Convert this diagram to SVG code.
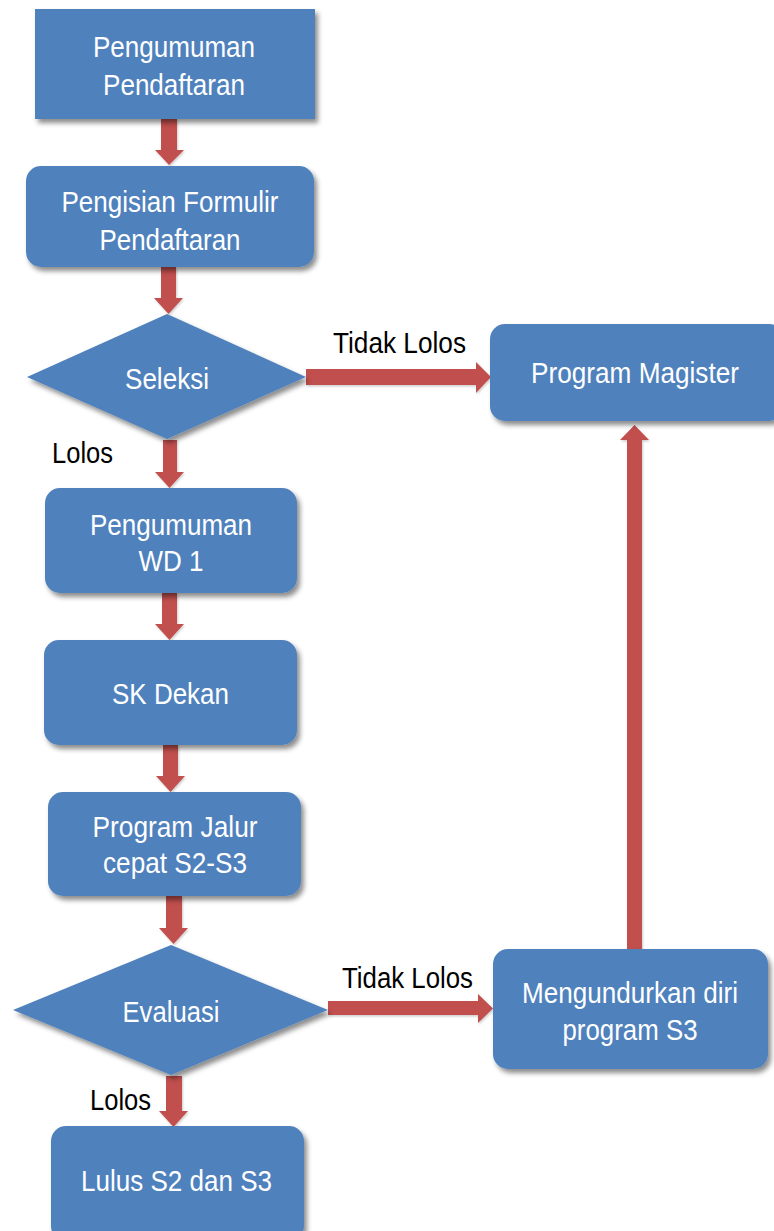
<svg xmlns="http://www.w3.org/2000/svg" width="774" height="1231" viewBox="0 0 774 1231">
<style>
.box{fill:#4F81BD;filter:url(#sh)}
.arr{fill:#C0504D;filter:url(#sh2)}
.t{font-family:"Liberation Sans",Arial,sans-serif;font-size:29px;fill:#FFFFFF;text-anchor:middle}
.l{font-family:"Liberation Sans",Arial,sans-serif;font-size:29px;fill:#000000}
</style>
<defs>
<filter id="sh" x="-20%" y="-20%" width="140%" height="150%">
<feDropShadow dx="3" dy="4" stdDeviation="2.5" flood-color="#000" flood-opacity="0.45"/>
</filter>
<filter id="sh2" x="-20%" y="-20%" width="140%" height="150%">
<feDropShadow dx="1" dy="1.5" stdDeviation="1" flood-color="#000" flood-opacity="0.2"/>
</filter>
</defs>
<rect width="774" height="1231" fill="#FFFFFF"/>
<g id="connectors">
<polygon class="arr" points="161,119 177,119 177,150 184,150 169,165 155,150 161,150"/>
<polygon class="arr" points="161,267 176,267 176,298 183,298 168.5,314 154,298 161,298"/>
<polygon class="arr" points="163,440 177,440 177,472 184,472 169.5,488 155,472 163,472"/>
<polygon class="arr" points="162,593 177,593 177,624 184,624 169.5,640 155,624 162,624"/>
<polygon class="arr" points="163,745 178,745 178,776 185,776 170.5,792 156,776 163,776"/>
<polygon class="arr" points="166,896 182,896 182,928 188,928 173.5,944 159,928 166,928"/>
<polygon class="arr" points="166,1076 182,1076 182,1111 188,1111 173.5,1127 159,1111 166,1111"/>
<polygon class="arr" points="306,369 476,369 476,362 491,377 476,393 476,385 306,385"/>
<polygon class="arr" points="328,1001 478,1001 478,994 493,1008.5 478,1023 478,1015 328,1015"/>
<polygon class="arr" points="627,949 627,440 620,440 634.5,425 649,440 642,440 642,949"/>
<text class="l" x="333" y="353" textLength="133" lengthAdjust="spacingAndGlyphs">Tidak Lolos</text>
<text class="l" x="52" y="463" textLength="61" lengthAdjust="spacingAndGlyphs">Lolos</text>
<text class="l" x="342" y="988" textLength="131" lengthAdjust="spacingAndGlyphs">Tidak Lolos</text>
<text class="l" x="90" y="1110" textLength="61" lengthAdjust="spacingAndGlyphs">Lolos</text>
</g>
<g id="n1">
<rect class="box" x="35" y="9" width="280" height="110"/>
<text class="t" x="174" y="57" textLength="162" lengthAdjust="spacingAndGlyphs">Pengumuman</text>
<text class="t" x="174" y="95" textLength="142" lengthAdjust="spacingAndGlyphs">Pendaftaran</text>
</g>
<g id="n2">
<rect class="box" x="26" y="166" width="288" height="101" rx="15"/>
<text class="t" x="170" y="212" textLength="217" lengthAdjust="spacingAndGlyphs">Pengisian Formulir</text>
<text class="t" x="170" y="250" textLength="141" lengthAdjust="spacingAndGlyphs">Pendaftaran</text>
</g>
<g id="n3">
<polygon class="box" points="167,314 306,377 167,439 27,377"/>
<text class="t" x="167" y="389" textLength="84" lengthAdjust="spacingAndGlyphs">Seleksi</text>
</g>
<g id="n4">
<rect class="box" x="490" y="324" width="294" height="97" rx="15"/>
<text class="t" x="635" y="383" textLength="208" lengthAdjust="spacingAndGlyphs">Program Magister</text>
</g>
<g id="n5">
<rect class="box" x="45" y="488" width="252" height="105" rx="15"/>
<text class="t" x="171" y="535" textLength="162" lengthAdjust="spacingAndGlyphs">Pengumuman</text>
<text class="t" x="171" y="571" textLength="65" lengthAdjust="spacingAndGlyphs">WD 1</text>
</g>
<g id="n6">
<rect class="box" x="44" y="640" width="253" height="105" rx="15"/>
<text class="t" x="170.5" y="704" textLength="117" lengthAdjust="spacingAndGlyphs">SK Dekan</text>
</g>
<g id="n7">
<rect class="box" x="48" y="792" width="253" height="104" rx="15"/>
<text class="t" x="175" y="837" textLength="165" lengthAdjust="spacingAndGlyphs">Program Jalur</text>
<text class="t" x="175" y="873" textLength="144" lengthAdjust="spacingAndGlyphs">cepat S2-S3</text>
</g>
<g id="n8">
<polygon class="box" points="171,945 328,1010 171,1075 13,1010"/>
<text class="t" x="171" y="1022" textLength="97" lengthAdjust="spacingAndGlyphs">Evaluasi</text>
</g>
<g id="n9">
<rect class="box" x="493" y="949" width="275" height="120" rx="15"/>
<text class="t" x="630" y="1003" textLength="216" lengthAdjust="spacingAndGlyphs">Mengundurkan diri</text>
<text class="t" x="630" y="1040" textLength="135" lengthAdjust="spacingAndGlyphs">program S3</text>
</g>
<g id="n10">
<rect class="box" x="51" y="1126" width="253" height="115" rx="15"/>
<text class="t" x="176.5" y="1191" textLength="191" lengthAdjust="spacingAndGlyphs">Lulus S2 dan S3</text>
</g>
</svg>
